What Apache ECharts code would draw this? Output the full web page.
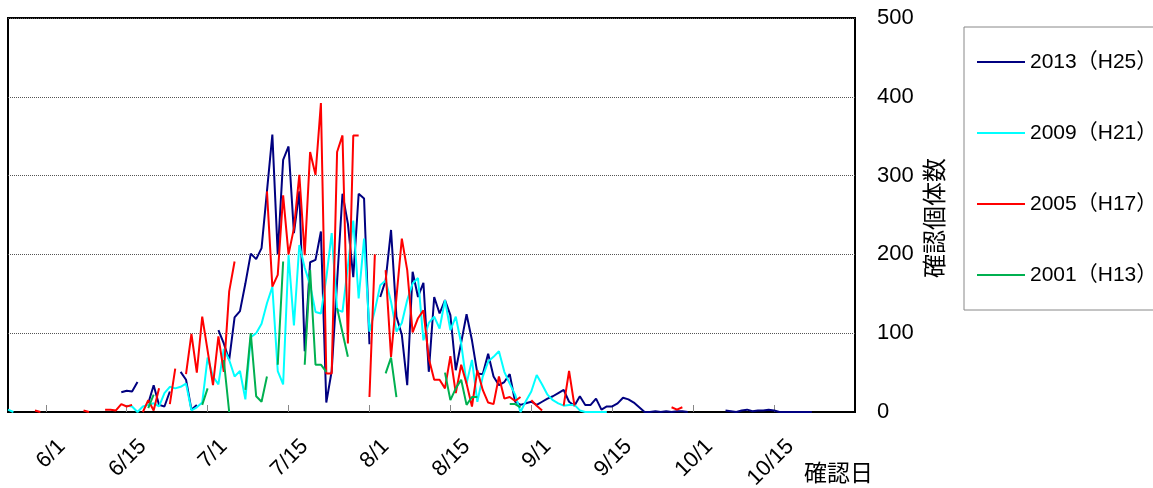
<!DOCTYPE html>
<html>
<head>
<meta charset="utf-8">
<script src="https://cdn.jsdelivr.net/npm/echarts@6/dist/echarts.min.js"></script>
<style>
  html, body { margin: 0; padding: 0; background: #fff; }
  #chart { width: 1153px; height: 488px; }
</style>
</head>
<body>
<div id="chart"></div>
<script>
// Daily sighting counts, one slot per survey day; each run starts at its slot index.
const slotCount = 158;
const tickLabels = ['6/1', '6/15', '7/1', '7/15', '8/1', '8/15', '9/1', '9/15', '10/1', '10/15'];
const seriesNames = ['2013（H25）', '2009（H21）', '2005（H17）', '2001（H13）'];
const seriesColors = ['#000080', '#00FFFF', '#FF0000', '#00B050'];

const runs2013 = [
  [21, [25, 27, 26, 38]],
  [26, [11, 34, 9, 7, 26]],
  [32, [51, 41, 3, 9]],
  [39, [104, 87, 66, 120, 128, 163, 201, 194, 208, 280, 352, 200, 320, 337, 227, 280, 77, 190, 193, 229,
        12, 52, 165, 277, 239, 171, 277, 271, 86]],
  [69, [146, 167, 231, 121, 98, 34, 178, 146, 164, 51, 146, 125, 142, 123, 53, 88, 124, 91, 49, 48,
        74, 45, 34, 38, 48, 13, 9, 11, 13, 9, 13, 17, 20, 24, 28, 13, 8, 20, 9, 9,
        17, 3, 7, 7, 11, 18, 16, 12, 6, 0, 0, 1, 0, 1, 0, 1, 1, 0]],
  [133, [2, 1, 0, 2, 3, 1, 2, 2, 3, 2, 0, 0, 0, 0, 0, 0, 0]]
];

const runs2009 = [
  [0, [3, 0]],
  [22, [8, 7, 0, 7, 9, 11, 7, 24, 32, 30, 32, 36, 2, 6, 12, 69, 45, 35, 80, 66,
        45, 52, 16, 95, 100, 112, 138, 159, 52, 35, 199, 110, 212, 183, 161, 127, 125, 170, 227, 130,
        127, 185, 243, 144, 220, 102, 129, 161, 167, 140, 102, 113, 142, 163, 170, 91, 113, 121, 106, 142,
        104, 121, 87, 36, 66, 13, 45, 64, 70, 77, 51, 36, 22, 0, 14, 26, 47, 35, 22, 15,
        11, 8, 9, 9, 2, 0, 0, 0, 0, 0]]
];

const runs2005 = [
  [5, [2, 0]],
  [14, [2, 0]],
  [18, [3, 3, 2, 10, 7, 9]],
  [25, [0, 15, 2, 30]],
  [30, [10, 55]],
  [33, [48, 99, 50, 121, 78, 34, 96, 51, 153, 191]],
  [48, [280, 159, 174, 275, 200, 233, 301, 199, 330, 301, 392, 49, 49, 330, 351, 87, 351, 351]],
  [67, [19, 200]],
  [70, [180, 70, 145, 220, 180, 101, 119, 129, 68, 41, 41, 30, 71, 24, 60, 36, 7, 53, 28, 12,
        10, 45, 17, 19, 14, 19]],
  [97, [15, 8, 2]],
  [103, [8, 52, 8]],
  [123, [6, 3, 6]]
];

const runs2001 = [
  [26, [5, 22]],
  [36, [9, 30]],
  [40, [66, 0]],
  [44, [28, 100, 20, 13, 45]],
  [50, [60, 191]],
  [55, [60, 180, 60, 60, 51]],
  [61, [132, 101, 70]],
  [70, [49, 69, 19]],
  [81, [50, 15, 30, 41, 9, 19, 19]],
  [93, [10, 10, 6]]
];

// Spread the runs over the full slot range, leaving unsurveyed days empty.
function expand(runs) {
  const out = new Array(slotCount).fill(null);
  runs.forEach(([start, values]) => values.forEach((v, i) => { out[start + i] = v; }));
  return out;
}

const slots = Array.from({ length: slotCount }, (_, i) => String(i));
const seriesData = [runs2013, runs2009, runs2005, runs2001].map(expand);

const FIRST_TICK = 7;
const TICK_STEP = 15;
const LABEL_SHIFT = 3;
const FONT = "'Liberation Sans', 'Noto Sans CJK JP', sans-serif";

function tickIndex(i) {
  const k = i - FIRST_TICK;
  return (k >= 0 && k % TICK_STEP === 0 && k / TICK_STEP < tickLabels.length) ? k / TICK_STEP : -1;
}
function labelIndex(i) {
  return tickIndex(i - LABEL_SHIFT);
}

const chart = echarts.init(document.getElementById('chart'), null, { renderer: 'canvas' });

chart.setOption({
  animation: false,
  backgroundColor: '#fff',
  textStyle: { fontFamily: FONT },
  grid: {
    left: 8, right: 298, top: 18, bottom: 76,
    show: true, borderColor: '#000', borderWidth: 2,
    containLabel: false, outerBoundsMode: 'none'
  },
  legend: {
    orient: 'vertical',
    left: 964, top: 27,
    padding: [23, 40, 23, 13],
    itemGap: 47,
    icon: 'rect',
    itemWidth: 48, itemHeight: 2,
    borderColor: '#888', borderWidth: 1,
    textStyle: { fontSize: 21, lineHeight: 24, color: '#000', fontFamily: FONT },
    data: seriesNames
  },
  xAxis: {
    type: 'category',
    data: slots,
    boundaryGap: false,
    axisLine: { lineStyle: { color: '#000', width: 2 } },
    axisTick: {
      inside: true, length: 7,
      interval: (i) => tickIndex(i) >= 0,
      lineStyle: { color: '#888', width: 1 }
    },
    axisLabel: {
      interval: (i) => labelIndex(i) >= 0,
      formatter: (value) => {
        const k = labelIndex(Number(value));
        return k >= 0 ? tickLabels[k] : '';
      },
      rotate: 45, margin: 31,
      fontSize: 22, color: '#000', fontFamily: FONT
    },
    splitLine: { show: false },
    name: '確認日',
    nameLocation: 'end',
    nameGap: 18,
    nameTextStyle: {
      fontSize: 23, color: '#000', fontFamily: FONT,
      align: 'right', verticalAlign: 'top', padding: [51, 0, 0, 0]
    }
  },
  yAxis: {
    type: 'value',
    position: 'right',
    min: 0, max: 500, interval: 100,
    axisLine: { show: false },
    axisTick: { show: false },
    axisLabel: { margin: 22, fontSize: 22, color: '#000', fontFamily: FONT },
    splitLine: { lineStyle: { type: 'dotted', color: '#555', width: 1 } },
    name: '確認個体数',
    nameLocation: 'middle',
    nameGap: 68,
    nameRotate: 90,
    nameTextStyle: { fontSize: 24, color: '#000', fontFamily: FONT, padding: [0, 6, 0, 0] }
  },
  series: seriesNames.map((name, i) => ({
    name,
    type: 'line',
    data: seriesData[i],
    symbol: 'none',
    showSymbol: false,
    connectNulls: false,
    color: seriesColors[i],
    lineStyle: { color: seriesColors[i], width: 2 },
    itemStyle: { color: seriesColors[i] },
    emphasis: { disabled: true }
  }))
});
</script>
</body>
</html>
